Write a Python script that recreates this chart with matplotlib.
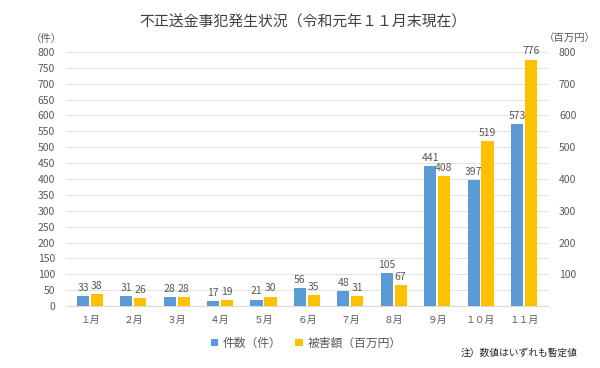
import matplotlib.pyplot as plt
import numpy as np

plt.rcParams['font.family'] = ['Noto Sans CJK JP', 'DejaVu Sans']

months = ['１月', '２月', '３月', '４月', '５月', '６月', '７月', '８月', '９月', '１０月', '１１月']
cases = [33, 31, 28, 17, 21, 56, 48, 105, 441, 397, 573]
damage = [38, 26, 28, 19, 30, 35, 31, 67, 408, 519, 776]

blue = '#5B9BD5'
gold = '#FFC000'
grey = '#595959'

fig = plt.figure(figsize=(6, 3.68), dpi=100)
ax = fig.add_axes([0.11, 0.168, 0.803, 0.691])
ax2 = ax.twinx()

x = np.arange(len(months))
w = 0.28
b1 = ax.bar(x - w / 2 - 0.02, cases, w, color=blue, zorder=3, label='件数（件）')
b2 = ax2.bar(x + w / 2 + 0.02, damage, w, color=gold, zorder=3, label='被害額（百万円）')

for rect, v in zip(b1, cases):
    ax.text(rect.get_x() + rect.get_width() / 2, v + 10, str(v), ha='center', va='bottom',
            fontsize=7.5, color=grey)
for rect, v in zip(b2, damage):
    ax2.text(rect.get_x() + rect.get_width() / 2, v + 10, str(v), ha='center', va='bottom',
             fontsize=7.5, color=grey)

for a in (ax, ax2):
    a.set_ylim(0, 800)
    a.set_xlim(-0.55, len(months) - 0.45)
    for s in a.spines.values():
        s.set_visible(False)
ax.spines['bottom'].set_visible(True)
ax.spines['bottom'].set_color('#d9d9d9')

ax.set_yticks(np.arange(0, 801, 50))
ax.tick_params(axis='y', length=0, labelsize=7.5, labelcolor=grey, pad=8)
ax.grid(axis='y', color='#e3e3e3', linewidth=0.8, zorder=0)
ax.set_axisbelow(True)

ax2.set_yticks(np.arange(100, 801, 100))
ax2.tick_params(axis='y', length=0, labelsize=7.5, labelcolor=grey, pad=8)

ax.set_xticks(x)
ax.set_xticklabels(months)
ax.tick_params(axis='x', length=0, labelsize=7, labelcolor=grey, pad=6)

fig.text(0.505, 0.94, '不正送金事犯発生状況（令和元年１１月末現在）', ha='center', va='center',
         fontsize=10.7, color='#404040')
fig.text(0.078, 0.895, '（件）', ha='center', va='center', fontsize=7.5, color=grey)
fig.text(0.95, 0.895, '（百万円）', ha='center', va='center', fontsize=7.5, color=grey)

fig.legend(handles=[b1, b2], loc='center', bbox_to_anchor=(0.51, 0.068), ncol=2,
           frameon=False, fontsize=8.5, handlelength=0.6, handleheight=0.6,
           columnspacing=1.2, handletextpad=0.4, labelcolor=grey)
fig.text(0.962, 0.042, '注）数値はいずれも暫定値', ha='right', va='center', fontsize=7, color='#262626')

fig.savefig('out.png', dpi=100)
